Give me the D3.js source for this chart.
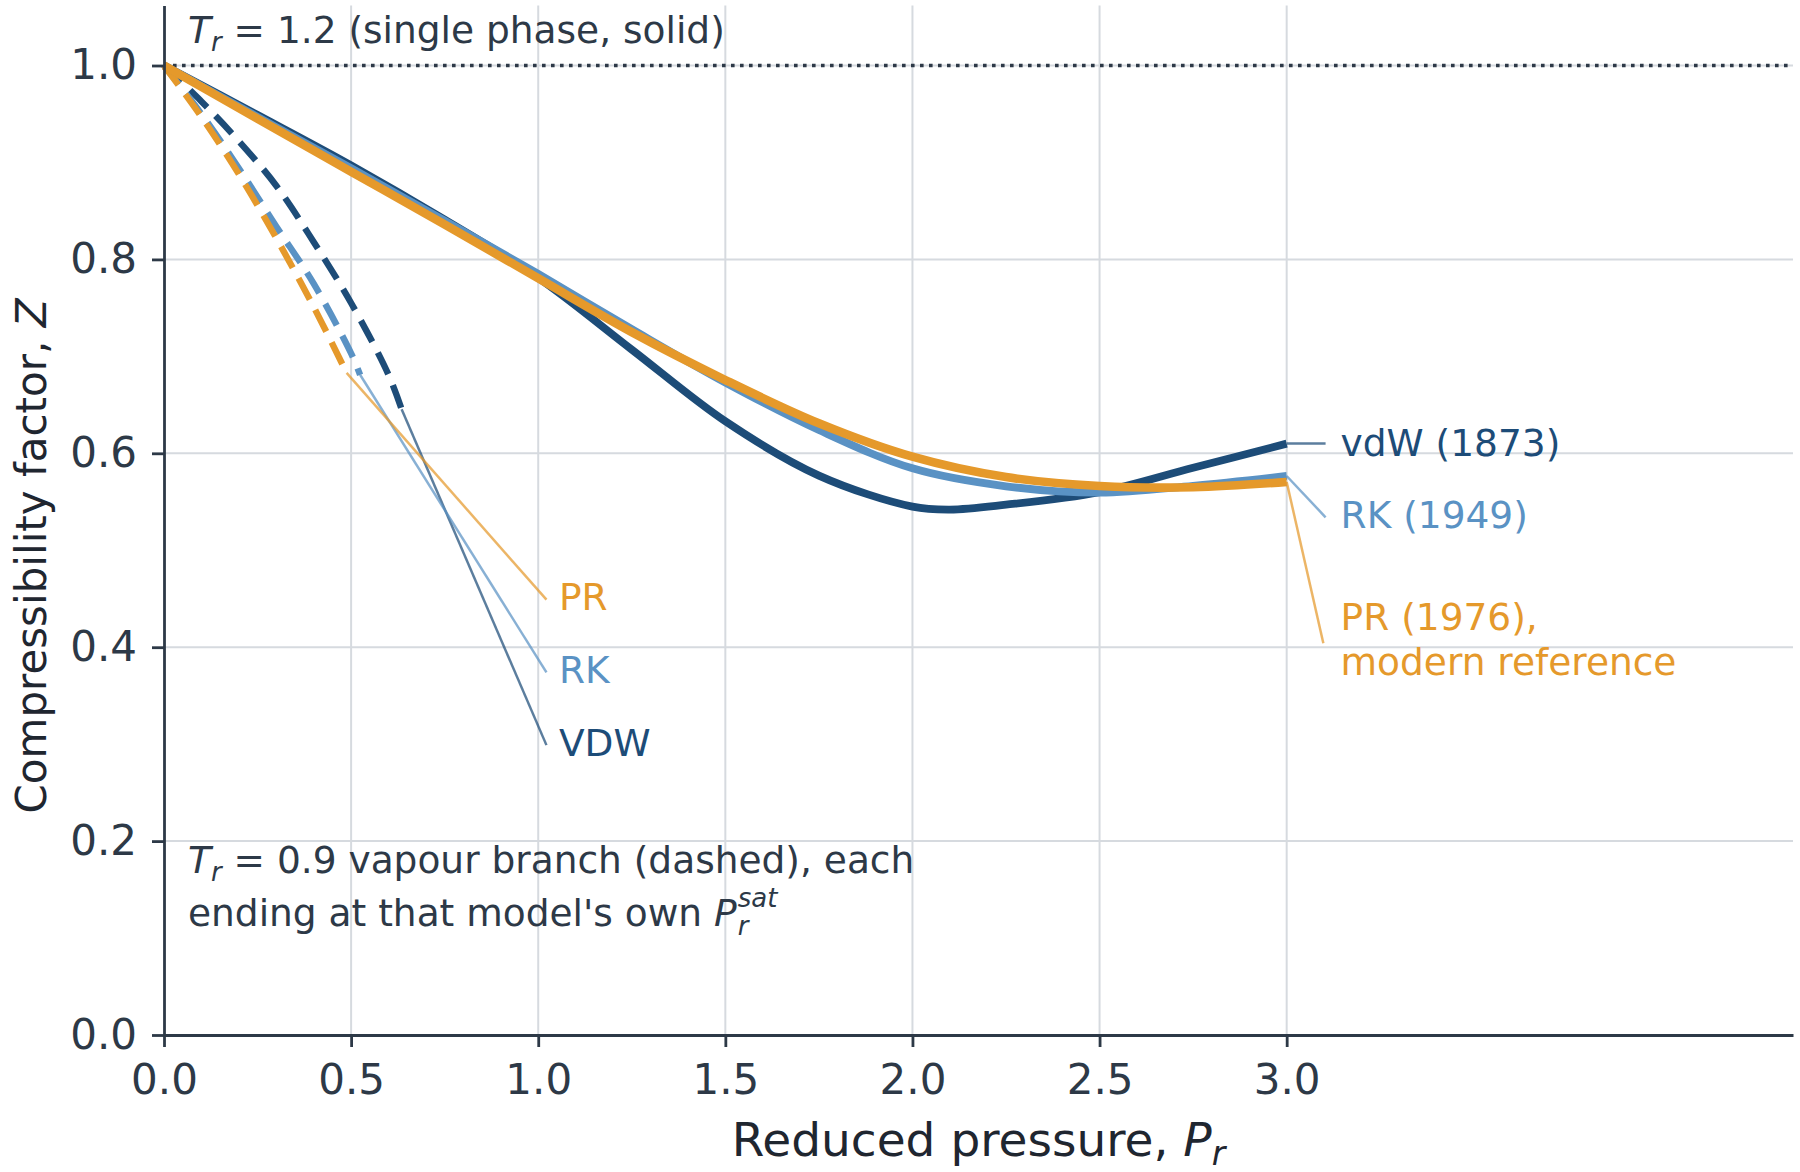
<!DOCTYPE html>
<html>
<head>
<meta charset="utf-8">
<script src="https://cdn.jsdelivr.net/npm/d3@7"></script>
<style>
  body { margin: 0; background: #fff; }
  text { font-family: "DejaVu Sans", sans-serif; }
</style>
</head>
<body>
<script>
    var width = 1800;
    var height = 1172;

    // Tr = 1.2 isotherms (solid)
    var prVdwSolid = [0, 0.25, 0.5, 0.75, 1.0, 1.25, 1.5, 1.75, 2.0, 2.1, 2.25, 2.5, 2.75, 3.0];
    var zVdwSolid  = [1.0, 0.949, 0.897, 0.841, 0.781, 0.707, 0.633, 0.577, 0.545, 0.542, 0.547, 0.560, 0.585, 0.610];
    var prSolid    = [0, 0.25, 0.5, 0.75, 1.0, 1.25, 1.5, 1.75, 2.0, 2.25, 2.5, 2.75, 3.0];
    var zRkSolid   = [1.0, 0.947, 0.894, 0.840, 0.785, 0.728, 0.673, 0.624, 0.5845, 0.566, 0.5594, 0.5665, 0.5766];
    var zPrSolid   = [1.0, 0.945, 0.8905, 0.836, 0.7805, 0.725, 0.6756, 0.631, 0.5965, 0.5755, 0.5663, 0.5650, 0.5704];

    // Tr = 0.9 vapour branches (dashed), each ends at its own Psat
    var prVdwDash = [0, 0.1, 0.2, 0.3, 0.4, 0.5, 0.6, 0.635];
    var zVdwDash  = [1.0, 0.963, 0.922, 0.876, 0.818, 0.755, 0.681, 0.6454];
    var prRkDash  = [0, 0.1, 0.2, 0.3, 0.4, 0.5, 0.524];
    var zRkDash   = [1.0, 0.950, 0.894, 0.834, 0.775, 0.703, 0.681];
    var prPrDash  = [0, 0.1, 0.2, 0.3, 0.4, 0.488];
    var zPrDash   = [1.0, 0.947, 0.888, 0.822, 0.751, 0.683];

    var xTicks = [0, 0.5, 1.0, 1.5, 2.0, 2.5, 3.0];
    var yTicks = [0, 0.2, 0.4, 0.6, 0.8, 1.0];

    var rightLabels = [["vdW (1873)"], ["RK (1949)"], ["PR (1976),", "modern reference"]];
    var leftLabels = ["VDW", "RK", "PR"];

    var cVdw = "#1d4c78";
    var cRk = "#5a92c4";
    var cPr = "#e5992b";
    var ink = "#2d3947";
    var gridColour = "#d6dadf";
    var noteSize = 37.5;

    var svg = d3.select("body").append("svg")
      .attr("width", width)
      .attr("height", height);

    var x = d3.scaleLinear().domain([0, 4.353]).range([164, 1793]);
    var y = d3.scaleLinear().domain([0, 1.062]).range([1035, 5.4]);

    var zip = function(xs, ys){ return xs.map(function(v, i){ return {x: v, z: ys[i]}; }); };

    var line = d3.line()
      .x(function(d){ return x(d.x); })
      .y(function(d){ return y(d.z); })
      .curve(d3.curveCatmullRom.alpha(0.5));

    // grid
    svg.append("g").selectAll("line").data(xTicks.slice(1)).enter().append("line")
      .attr("x1", function(d){ return x(d); }).attr("x2", function(d){ return x(d); })
      .attr("y1", y(0)).attr("y2", y(1.062))
      .attr("stroke", gridColour).attr("stroke-width", 2);
    svg.append("g").selectAll("line").data(yTicks.slice(1)).enter().append("line")
      .attr("x1", x(0)).attr("x2", x(4.353))
      .attr("y1", function(d){ return y(d); }).attr("y2", function(d){ return y(d); })
      .attr("stroke", gridColour).attr("stroke-width", 2);

    // Z = 1 ideal gas line
    svg.append("line")
      .attr("x1", x(0)).attr("x2", x(4.353))
      .attr("y1", y(1)).attr("y2", y(1))
      .attr("stroke", ink).attr("stroke-width", 3.6)
      .attr("stroke-dasharray", "3.6,5.4");

    // dashed vapour branches
    var dashed = [
      {pts: zip(prVdwDash, zVdwDash), c: cVdw},
      {pts: zip(prRkDash, zRkDash), c: cRk},
      {pts: zip(prPrDash, zPrDash), c: cPr}
    ];
    dashed.forEach(function(d){
      svg.append("path")
        .attr("d", line(d.pts))
        .attr("fill", "none")
        .attr("stroke", d.c)
        .attr("stroke-width", 6.4)
        .attr("stroke-dasharray", "24,12");
    });

    // solid isotherms
    var solid = [
      {pts: zip(prVdwSolid, zVdwSolid), c: cVdw, w: 7.8},
      {pts: zip(prSolid, zRkSolid), c: cRk, w: 7.8},
      {pts: zip(prSolid, zPrSolid), c: cPr, w: 8.6}
    ];
    solid.forEach(function(d){
      svg.append("path")
        .attr("d", line(d.pts))
        .attr("fill", "none")
        .attr("stroke", d.c)
        .attr("stroke-width", d.w)
        .attr("stroke-linejoin", "round");
    });

    // left labels for the dashed ends
    var leftAnchors = [[1.022, 0.299], [1.022, 0.374], [1.022, 0.449]];
    var leftColours = [cVdw, cRk, cPr];
    dashed.forEach(function(d, i){
      var end = d.pts[d.pts.length - 1];
      svg.append("line")
        .attr("x1", x(end.x)).attr("y1", y(end.z))
        .attr("x2", x(leftAnchors[i][0])).attr("y2", y(leftAnchors[i][1]))
        .attr("stroke", leftColours[i]).attr("stroke-width", 2.5).attr("stroke-opacity", 0.72);
      svg.append("text")
        .attr("x", x(leftAnchors[i][0]) + 12.5)
        .attr("y", y(leftAnchors[i][1]) + 10.5)
        .attr("font-size", noteSize)
        .attr("fill", leftColours[i])
        .text(leftLabels[i]);
    });

    // right labels for the solid ends
    var rightAnchors = [[3.104, 0.610], [3.104, 0.534], [3.098, 0.404]];
    var rightOffsets = [[12.5], [10.5], [-13, 32]];
    solid.forEach(function(d, i){
      var end = d.pts[d.pts.length - 1];
      svg.append("line")
        .attr("x1", x(end.x)).attr("y1", y(end.z))
        .attr("x2", x(rightAnchors[i][0])).attr("y2", y(rightAnchors[i][1]))
        .attr("stroke", d.c).attr("stroke-width", 2.5).attr("stroke-opacity", 0.72);
      rightLabels[i].forEach(function(t, j){
        svg.append("text")
          .attr("x", x(3.104) + 15)
          .attr("y", y(rightAnchors[i][1]) + rightOffsets[i][j])
          .attr("font-size", noteSize)
          .attr("fill", d.c)
          .text(t);
      });
    });

    // axes
    var xAxis = svg.append("g")
      .attr("transform", "translate(0," + y(0) + ")")
      .call(d3.axisBottom(x).tickValues(xTicks).tickFormat(d3.format(".1f"))
        .tickSize(12).tickSizeOuter(0).tickPadding(17));
    var yAxis = svg.append("g")
      .attr("transform", "translate(" + x(0) + ",0)")
      .call(d3.axisLeft(y).tickValues(yTicks).tickFormat(d3.format(".1f"))
        .tickSize(12).tickSizeOuter(0).tickPadding(15));
    [xAxis, yAxis].forEach(function(a){
      a.select(".domain").attr("stroke", ink).attr("stroke-width", 2.8);
      a.selectAll(".tick line").attr("stroke", ink).attr("stroke-width", 2.8);
      a.selectAll(".tick text").attr("fill", ink).attr("font-size", 42)
        .attr("font-family", "DejaVu Sans");
    });

    // axis titles
    var xTitle = svg.append("text")
      .attr("x", (x(0) + x(4.353)) / 2).attr("y", 1156)
      .attr("text-anchor", "middle").attr("font-size", 47).attr("fill", "#1f2630");
    xTitle.append("tspan").text("Reduced pressure, ");
    xTitle.append("tspan").attr("font-style", "italic").text("P");
    xTitle.append("tspan").attr("font-style", "italic").attr("font-size", 33).attr("dy", 9).text("r");

    var yTitle = svg.append("text")
      .attr("transform", "translate(46,556) rotate(-90)")
      .attr("text-anchor", "middle").attr("font-size", 42).attr("fill", "#1f2630");
    yTitle.append("tspan").text("Compressibility factor, ");
    yTitle.append("tspan").attr("font-style", "italic").text("Z");

    // annotations
    var noteTop = svg.append("text").attr("x", 188).attr("y", 43)
      .attr("font-size", noteSize).attr("fill", ink);
    noteTop.append("tspan").attr("font-style", "italic").text("T");
    noteTop.append("tspan").attr("font-style", "italic").attr("font-size", 26).attr("dy", 8).text("r");
    noteTop.append("tspan").attr("dy", -8).text(" = 1.2 (single phase, solid)");

    var noteLow1 = svg.append("text").attr("x", 188).attr("y", 873)
      .attr("font-size", noteSize).attr("fill", ink);
    noteLow1.append("tspan").attr("font-style", "italic").text("T");
    noteLow1.append("tspan").attr("font-style", "italic").attr("font-size", 26).attr("dy", 8).text("r");
    noteLow1.append("tspan").attr("dy", -8).text(" = 0.9 vapour branch (dashed), each");

    var noteLow2 = svg.append("text").attr("x", 188).attr("y", 926)
      .attr("font-size", noteSize).attr("fill", ink);
    noteLow2.append("tspan").text("ending at that model's own ");
    noteLow2.append("tspan").attr("font-style", "italic").text("P");
    var pEnd = 188 + noteLow2.node().getComputedTextLength();
    svg.append("text").attr("x", pEnd + 1).attr("y", 935)
      .attr("font-size", 26).attr("font-style", "italic").attr("fill", ink).text("r");
    svg.append("text").attr("x", pEnd + 1).attr("y", 907)
      .attr("font-size", 26).attr("font-style", "italic").attr("fill", ink).text("sat");
</script>
</body>
</html>
